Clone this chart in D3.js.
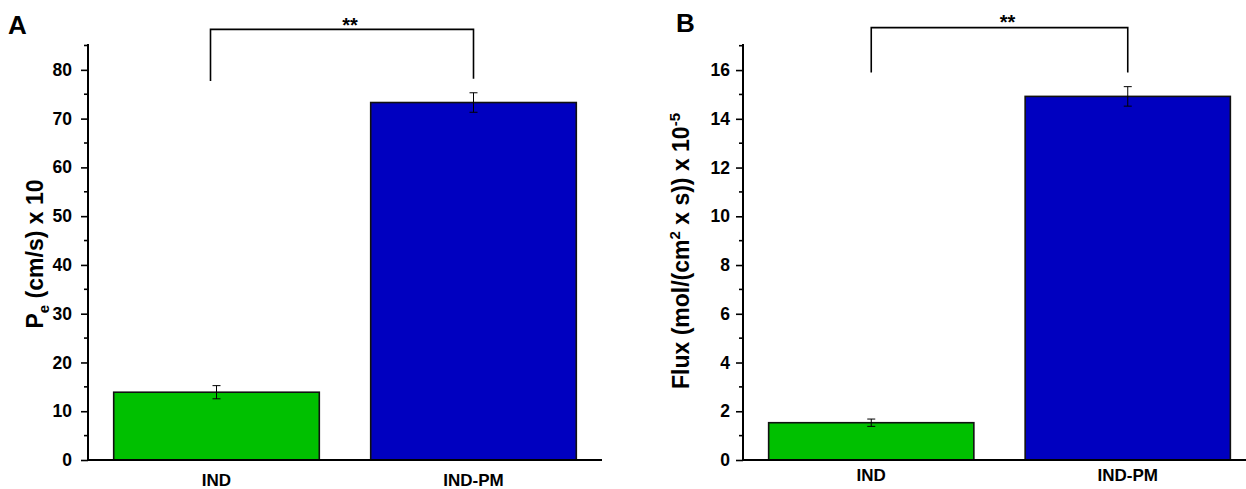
<!DOCTYPE html>
<html><head><meta charset="utf-8">
<script src="https://cdn.jsdelivr.net/npm/d3@7"></script>
<style>
body{margin:0;background:#fff;}
svg text{font-family:"Liberation Sans",Arial,sans-serif;font-weight:bold;fill:#000;}
</style></head>
<body><svg id="c" width="1246" height="489"></svg>
<script>
const categories = ["IND", "IND-PM"];
const peValues = [13.9, 73.3];
const peErrors = [1.35, 2.0];
const fluxValues = [1.53, 14.92];
const fluxErrors = [0.15, 0.4];
const peTicks = [0, 10, 20, 30, 40, 50, 60, 70, 80];
const fluxTicks = [0, 2, 4, 6, 8, 10, 12, 14, 16];
const barColors = ["#00c000", "#0000c0"];

const svg = d3.select("#c");

function panel(cfg) {
  const g = svg.append("g");
  const x = d3.scaleBand().domain(categories).range(cfg.xr).paddingInner(0.2).paddingOuter(0.1);
  const y = d3.scaleLinear().domain([0, cfg.ymax]).range([460, 44]);

  g.selectAll("rect.bar").data(categories).join("rect")
    .attr("x", d => x(d)).attr("width", x.bandwidth())
    .attr("y", (d, i) => y(cfg.values[i]))
    .attr("height", (d, i) => y(0) - y(cfg.values[i]))
    .attr("fill", (d, i) => barColors[i])
    .attr("stroke", "#111").attr("stroke-width", 1.6);

  categories.forEach((d, i) => {
    const cx = x(d) + x.bandwidth() / 2;
    const t = y(cfg.values[i] + cfg.errors[i]), b = y(cfg.values[i] - cfg.errors[i]);
    g.append("line").attr("x1", cx).attr("x2", cx).attr("y1", t).attr("y2", b).attr("stroke", "#000").attr("stroke-width", 1);
    [t, b].forEach(v => g.append("line").attr("x1", cx - 4).attr("x2", cx + 4).attr("y1", v).attr("y2", v).attr("stroke", "#000").attr("stroke-width", 1));
  });

  const minor = d3.range(cfg.minorStep, cfg.ymax, cfg.minorStep * 2);
  const yAxis = g.append("g").attr("transform", `translate(${cfg.xr[0]},0)`)
    .call(d3.axisLeft(y).tickValues(cfg.ticks).tickSize(7).tickPadding(cfg.tickPad).tickSizeOuter(0));
  yAxis.select(".domain").remove();
  yAxis.selectAll("text").attr("font-size", 17.5).attr("font-family", "Liberation Sans, Arial, sans-serif").attr("font-weight", "bold");
  yAxis.selectAll("line").attr("stroke-width", 1.6);
  g.selectAll("line.minor").data(minor).join("line")
    .attr("x1", cfg.xr[0] - 4).attr("x2", cfg.xr[0])
    .attr("y1", d => y(d)).attr("y2", d => y(d))
    .attr("stroke", "#000").attr("stroke-width", 1.6);
  g.append("line").attr("x1", cfg.xr[0]).attr("x2", cfg.xr[0]).attr("y1", 44).attr("y2", 461)
    .attr("stroke", "#000").attr("stroke-width", 2);
  g.append("line").attr("x1", cfg.xr[0]).attr("x2", cfg.xr[1]).attr("y1", 460).attr("y2", 460)
    .attr("stroke", "#000").attr("stroke-width", 2);
  g.selectAll("text.xl").data(categories).join("text")
    .attr("x", d => x(d) + x.bandwidth() / 2).attr("y", cfg.xLabY)
    .attr("text-anchor", "middle").attr("font-size", 17).text(d => d);

  const lx = x(categories[0]) + x.bandwidth() / 2 + cfg.bracketLeftShift;
  const rx = x(categories[1]) + x.bandwidth() / 2;
  g.append("path")
    .attr("d", `M${lx},${y(cfg.legL)}V${y(cfg.bracketTop)}H${rx}V${y(cfg.legR)}`)
    .attr("fill", "none").attr("stroke", "#000").attr("stroke-width", 1.6);
  g.append("text").attr("x", (lx + rx) / 2 + 8).attr("y", y(cfg.bracketTop) + cfg.starDy)
    .attr("text-anchor", "middle").attr("font-size", 20).text("**");

  g.append("text").attr("x", cfg.letterX).attr("y", cfg.letterY).attr("font-size", 26).text(cfg.letter);

  const tt = g.append("text").attr("transform", `translate(${cfg.titleX},${cfg.titleY}) rotate(-90)`)
    .attr("text-anchor", "middle").attr("font-size", 23);
  cfg.title(tt);
  return g;
}

panel({
  xr: [88, 602], ymax: 85.3, values: peValues, errors: peErrors, ticks: peTicks, minorStep: 5,
  tickPad: 9, xLabY: 486, bracketTop: 88.3, legL: 77.7, legR: 78.2, bracketLeftShift: -6, starDy: 3,
  letter: "A", letterX: 8, letterY: 34, titleX: 43, titleY: 254,
  title: t => {
    t.append("tspan").text("P");
    t.append("tspan").attr("font-size", 15).attr("dy", 6).text("e");
    t.append("tspan").attr("dy", -6).text(" (cm/s) x 10");
  }
});

panel({
  xr: [743, 1256], ymax: 17.07, values: fluxValues, errors: fluxErrors, ticks: fluxTicks, minorStep: 1,
  tickPad: 6, xLabY: 481, bracketTop: 17.74, legL: 15.9, legR: 15.9, bracketLeftShift: 0, starDy: 1,
  letter: "B", letterX: 676, letterY: 32, titleX: 689, titleY: 251,
  title: t => {
    t.append("tspan").text("Flux (mol/(cm");
    t.append("tspan").attr("font-size", 15).attr("dy", -9).text("2");
    t.append("tspan").attr("dy", 9).text(" x s)) x 10");
    t.append("tspan").attr("font-size", 15).attr("dy", -9).text("-5");
  }
});
</script></body></html>
